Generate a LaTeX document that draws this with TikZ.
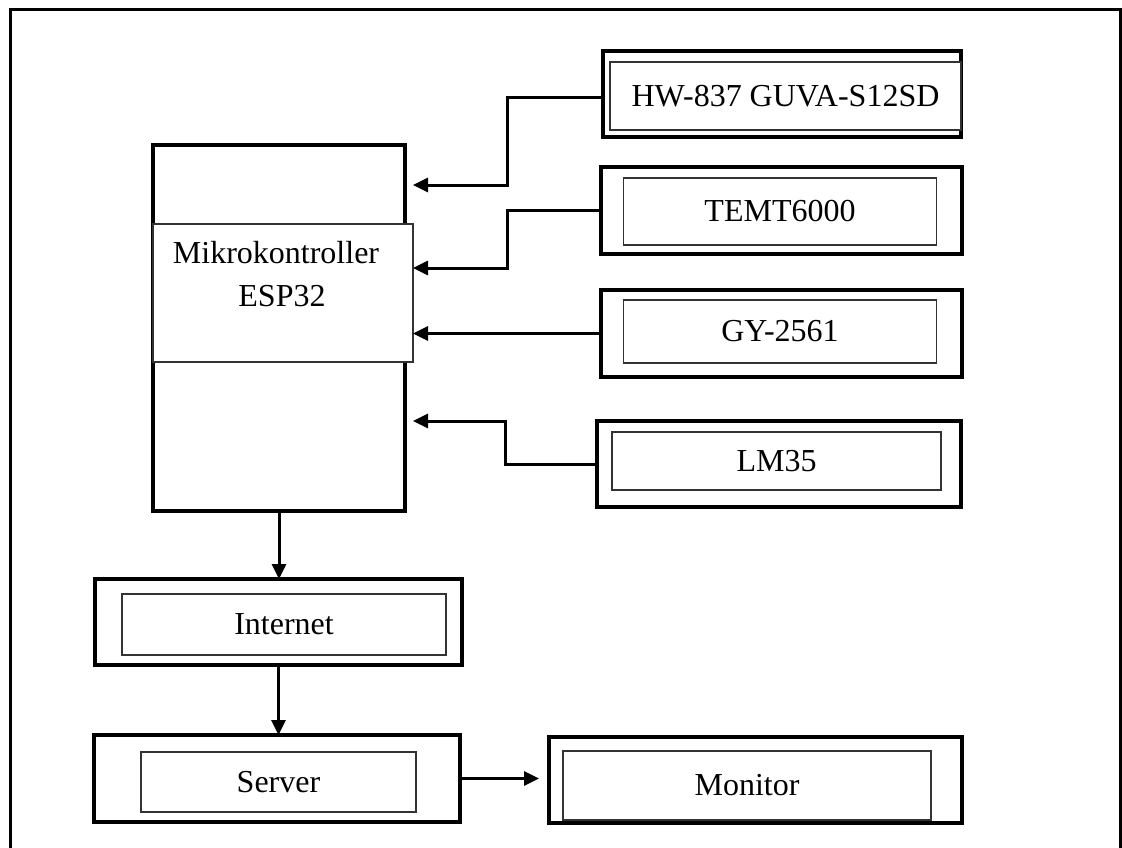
\documentclass[tikz,border=0pt]{standalone}
\usepackage{fontspec}
\setmainfont{Liberation Serif}
\usetikzlibrary{calc,arrows.meta}
\tikzset{
  outerframe/.style={draw=black, line width=3pt},
  outerbox/.style={draw=black, line width=3.1pt, fill=white, inner sep=0pt, outer sep=0pt},
  innerbox/.style={draw=black!80, line width=1.4pt, fill=white, inner sep=0pt, outer sep=0pt, font=\fontsize{32}{36}\selectfont},
  lab/.style={font=\fontsize{32}{43}\selectfont, align=center, inner sep=0pt},
  wire/.style={draw=black, line width=3pt},
  arr/.style={wire, -{Triangle[length=15pt,width=14pt]}},
}

\begin{document}
\begin{tikzpicture}[x=1pt,y=-1pt]
  \useasboundingbox (0,0) rectangle (1122,848);
  \draw[outerframe] (10,860) -- (10,10) -- (1120,10) -- (1120,860);

  \node[outerbox, minimum width=252pt, minimum height=366pt] (esp) at (279,328) {};
  \node[innerbox, minimum width=260pt, minimum height=138pt] (esplab) at (283,293) {};
  \node[lab] (esptxt) at (276,274) {Mikrokontroller\\\hspace*{12pt}ESP32};

  \node[outerbox, minimum width=358pt, minimum height=86pt] (hw) at (782,94) {};
  \node[innerbox, minimum width=351pt, minimum height=68pt] (hwlab) at (785.5,96) {HW-837 GUVA-S12SD};
  \node[outerbox, minimum width=361pt, minimum height=87pt] (temt) at (781.5,210.5) {};
  \node[innerbox, minimum width=313pt, minimum height=67pt] (temtlab) at (780,211.5) {TEMT6000};
  \node[outerbox, minimum width=361pt, minimum height=87pt] (gy) at (781.5,333.5) {};
  \node[innerbox, minimum width=313pt, minimum height=63pt] (gylab) at (780,331.5) {GY-2561};
  \node[outerbox, minimum width=364pt, minimum height=86pt] (lm) at (779,464) {};
  \node[innerbox, minimum width=329pt, minimum height=58pt] (lmlab) at (776.5,461) {LM35};

  \node[outerbox, minimum width=367pt, minimum height=86pt] (inet) at (278.5,622) {};
  \node[innerbox, minimum width=324pt, minimum height=61pt] (inetlab) at (284,624.5) {Internet};
  \node[outerbox, minimum width=366pt, minimum height=87pt] (srv) at (277,778.5) {};
  \node[innerbox, minimum width=275pt, minimum height=60pt] (srvlab) at (278.5,782) {Server};
  \node[outerbox, minimum width=413pt, minimum height=86pt] (mon) at (755.5,780) {};
  \node[innerbox, minimum width=368pt, minimum height=69pt] (monlab) at (747,785.5) {Monitor};

  \coordinate (hwin) at (413,185);
  \coordinate (temtin) at (413,268);
  \coordinate (gyin) at (413,333.5);
  \coordinate (lmin) at (413,421);

  \draw[arr] ($(hw.west)+(0,4)$) -| ($(hwin)+(94,0)$) -- (hwin);
  \draw[arr] (temt.west) -| ($(temtin)+(94,0)$) -- (temtin);
  \draw[arr] (gy.west) -- (gyin);
  \draw[arr] (lm.west) -| ($(lmin)+(92,0)$) -- (lmin);
  \draw[arr] (esp.south) -- (esp.south |- inet.north);
  \draw[arr] (inet.south) -- (inet.south |- srv.north);
  \draw[arr, shorten >=10pt] (srv.east) -- (mon.west |- srv.east);
\end{tikzpicture}
\end{document}
